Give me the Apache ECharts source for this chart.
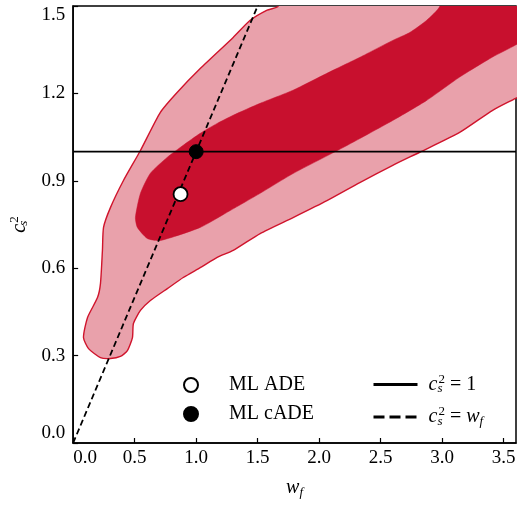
<!DOCTYPE html>
<html>
<head>
<meta charset="utf-8">
<script src="https://cdn.jsdelivr.net/npm/echarts@6/dist/echarts.min.js"></script>
<style>
html,body{margin:0;padding:0;background:#fff;}
#chart{width:522px;height:507px;}
</style>
</head>
<body>
<div id="chart"></div>
<script>
// 95% contour (outer, light)
const outerX = [1.666, 1.577, 1.439, 1.301, 1.035, 0.847, 0.709, 0.547, 0.409, 0.303, 0.247, 0.238, 0.222, 0.198, 0.117, 0.084, 0.125, 0.222, 0.303, 0.384, 0.441, 0.482, 0.490, 0.547, 0.628, 0.766, 0.895, 1.033, 1.171, 1.301, 1.520, 1.788, 2.063, 2.330, 2.598, 2.817, 3.142, 3.410, 3.596, 3.71, 3.71, 1.68]
const outerY = [1.499, 1.486, 1.451, 1.392, 1.286, 1.204, 1.135, 1.004, 0.901, 0.808, 0.740, 0.661, 0.547, 0.499, 0.431, 0.362, 0.324, 0.293, 0.290, 0.297, 0.317, 0.362, 0.410, 0.455, 0.489, 0.530, 0.568, 0.602, 0.637, 0.661, 0.719, 0.774, 0.832, 0.894, 0.953, 0.998, 1.066, 1.142, 1.183, 1.21, 1.6, 1.6]
// 68% contour (inner, dark)
const innerX = [2.980, 2.874, 2.736, 2.598, 2.331, 2.063, 1.788, 1.520, 1.301, 1.171, 1.033, 0.895, 0.766, 0.628, 0.547, 0.506, 0.522, 0.603, 0.709, 1.033, 1.277, 1.520, 1.788, 2.194, 2.598, 2.874, 3.142, 3.410, 3.596, 3.71, 3.71, 3.0]
const innerY = [1.499, 1.451, 1.409, 1.382, 1.324, 1.269, 1.211, 1.166, 1.125, 1.097, 1.063, 1.022, 0.981, 0.926, 0.857, 0.774, 0.740, 0.702, 0.695, 0.740, 0.798, 0.857, 0.925, 1.014, 1.107, 1.176, 1.256, 1.325, 1.366, 1.40, 1.6, 1.6]

const adePoint = [0.873, 0.854]
const cadePoint = [1.0, 1.0]
const hLineX = [0, 3.6]
const hLineY = [1, 1]
const diagX = [0, 1.6]
const diagY = [0, 1.6]

const xTicks = [0, 0.5, 1.0, 1.5, 2.0, 2.5, 3.0, 3.5]
const yTicks = [0, 0.3, 0.6, 0.9, 1.2, 1.5]

const FONT = 'Liberation Serif'
const mathRich = {
  i: {fontFamily: FONT, fontStyle: 'italic', fontSize: 20, color: '#000'},
  sub: {fontFamily: FONT, fontStyle: 'italic', fontSize: 13, color: '#000', padding: [9, 0, 0, 0], width: 1},
  subw: {fontFamily: FONT, fontStyle: 'italic', fontSize: 13, color: '#000', padding: [9, 0, 0, 0]},
  sup: {fontFamily: FONT, fontSize: 13, color: '#000', padding: [0, 0, 10, 0]},
  n: {fontFamily: FONT, fontSize: 20, color: '#000'}
}

const legendNames = {
  'c_s^2 = 1': '{i|c}{sub|s}{sup|2}{n| = 1}',
  'c_s^2 = w_f': '{i|c}{sub|s}{sup|2}{n| = }{i|w}{subw|f}'
}

const polygonItem = (xs, ys, style) => (params, api) => {
  const pts = xs.map((x, i) => api.coord([x, ys[i]]))
  return {type: 'polygon', shape: {points: pts, smooth: 0.2}, style: style}
}

const chart = echarts.init(document.getElementById('chart'))

chart.setOption({
  animation: false,
  grid: {left: 73, right: 6, top: 6, bottom: 64, show: true, borderColor: '#000', borderWidth: 1.5, backgroundColor: 'transparent'},
  xAxis: {
    type: 'value', min: 0, max: 3.6, interval: 0.5,
    name: '{i|w}{subw|f}', nameLocation: 'middle', nameGap: 34,
    nameTextStyle: {rich: mathRich},
    axisLine: {lineStyle: {color: '#000', width: 1.5}},
    axisTick: {inside: true, length: 5, lineStyle: {color: '#000', width: 1.2}},
    splitLine: {show: false},
    axisLabel: {
      fontFamily: FONT, fontSize: 19, color: '#000', margin: 6,
      showMaxLabel: false, alignMinLabel: 'left',
      formatter: v => xTicks.includes(v) ? v.toFixed(1) : ''
    }
  },
  yAxis: {
    type: 'value', min: 0, max: 1.5, interval: 0.3,
    name: '{i|c}{sub|s}{sup|2}', nameLocation: 'middle', nameGap: 40, nameRotate: 90,
    nameTextStyle: {rich: mathRich},
    axisLine: {lineStyle: {color: '#000', width: 1.5}},
    axisTick: {inside: true, length: 5, lineStyle: {color: '#000', width: 1.2}},
    splitLine: {show: false},
    axisLabel: {
      fontFamily: FONT, fontSize: 19, color: '#000', margin: 8,
      verticalAlignMinLabel: 'bottom', verticalAlignMaxLabel: 'top',
      formatter: v => yTicks.some(t => Math.abs(t - v) < 1e-9) ? v.toFixed(1) : ''
    }
  },
  legend: [
    {
      data: ['ML ADE', 'ML cADE'], orient: 'vertical', left: 183, top: 375, padding: 0,
      itemWidth: 14, itemHeight: 14, itemGap: 9,
      textStyle: {fontFamily: FONT, fontSize: 20, color: '#000', padding: [0, 0, 0, 26]}
    },
    {
      data: [
        {name: 'c_s^2 = 1', lineStyle: {width: 3}, itemStyle: {opacity: 0}},
        {name: 'c_s^2 = w_f', lineStyle: {width: 3, type: [11, 5]}, itemStyle: {opacity: 0}}
      ],
      orient: 'vertical', left: 372, top: 373, padding: 0,
      itemWidth: 44, itemHeight: 14, itemGap: 10,
      formatter: n => legendNames[n],
      textStyle: {fontFamily: FONT, fontSize: 20, color: '#000', padding: [0, 0, 0, 6], rich: mathRich}
    }
  ],
  series: [
    {
      type: 'custom', clip: true, silent: true, z: 1,
      data: [[outerX[0], outerY[0]]],
      renderItem: polygonItem(outerX, outerY, {fill: '#e9a1ab', stroke: '#d0142c', lineWidth: 1.4})
    },
    {
      type: 'custom', clip: true, silent: true, z: 2,
      data: [[innerX[0], innerY[0]]],
      renderItem: polygonItem(innerX, innerY, {fill: '#c8102e', stroke: '#c8102e', lineWidth: 0.5})
    },
    {
      name: 'c_s^2 = 1', type: 'line', z: 3, symbol: 'none',
      data: hLineX.map((x, i) => [x, hLineY[i]]),
      lineStyle: {color: '#000', width: 1.8},
      itemStyle: {color: '#000'}
    },
    {
      name: 'c_s^2 = w_f', type: 'line', z: 3, symbol: 'none',
      data: diagX.map((x, i) => [x, diagY[i]]),
      lineStyle: {color: '#000', width: 1.8, type: [6, 3.5]},
      itemStyle: {color: '#000'}
    },
    {
      name: 'ML ADE', type: 'scatter', z: 5, symbolSize: 14,
      data: [adePoint],
      itemStyle: {color: '#fff', borderColor: '#000', borderWidth: 1.8, opacity: 1}
    },
    {
      name: 'ML cADE', type: 'scatter', z: 5, symbolSize: 14,
      data: [cadePoint],
      itemStyle: {color: '#000', borderColor: '#000', borderWidth: 1, opacity: 1}
    }
  ]
})
</script>
</body>
</html>
